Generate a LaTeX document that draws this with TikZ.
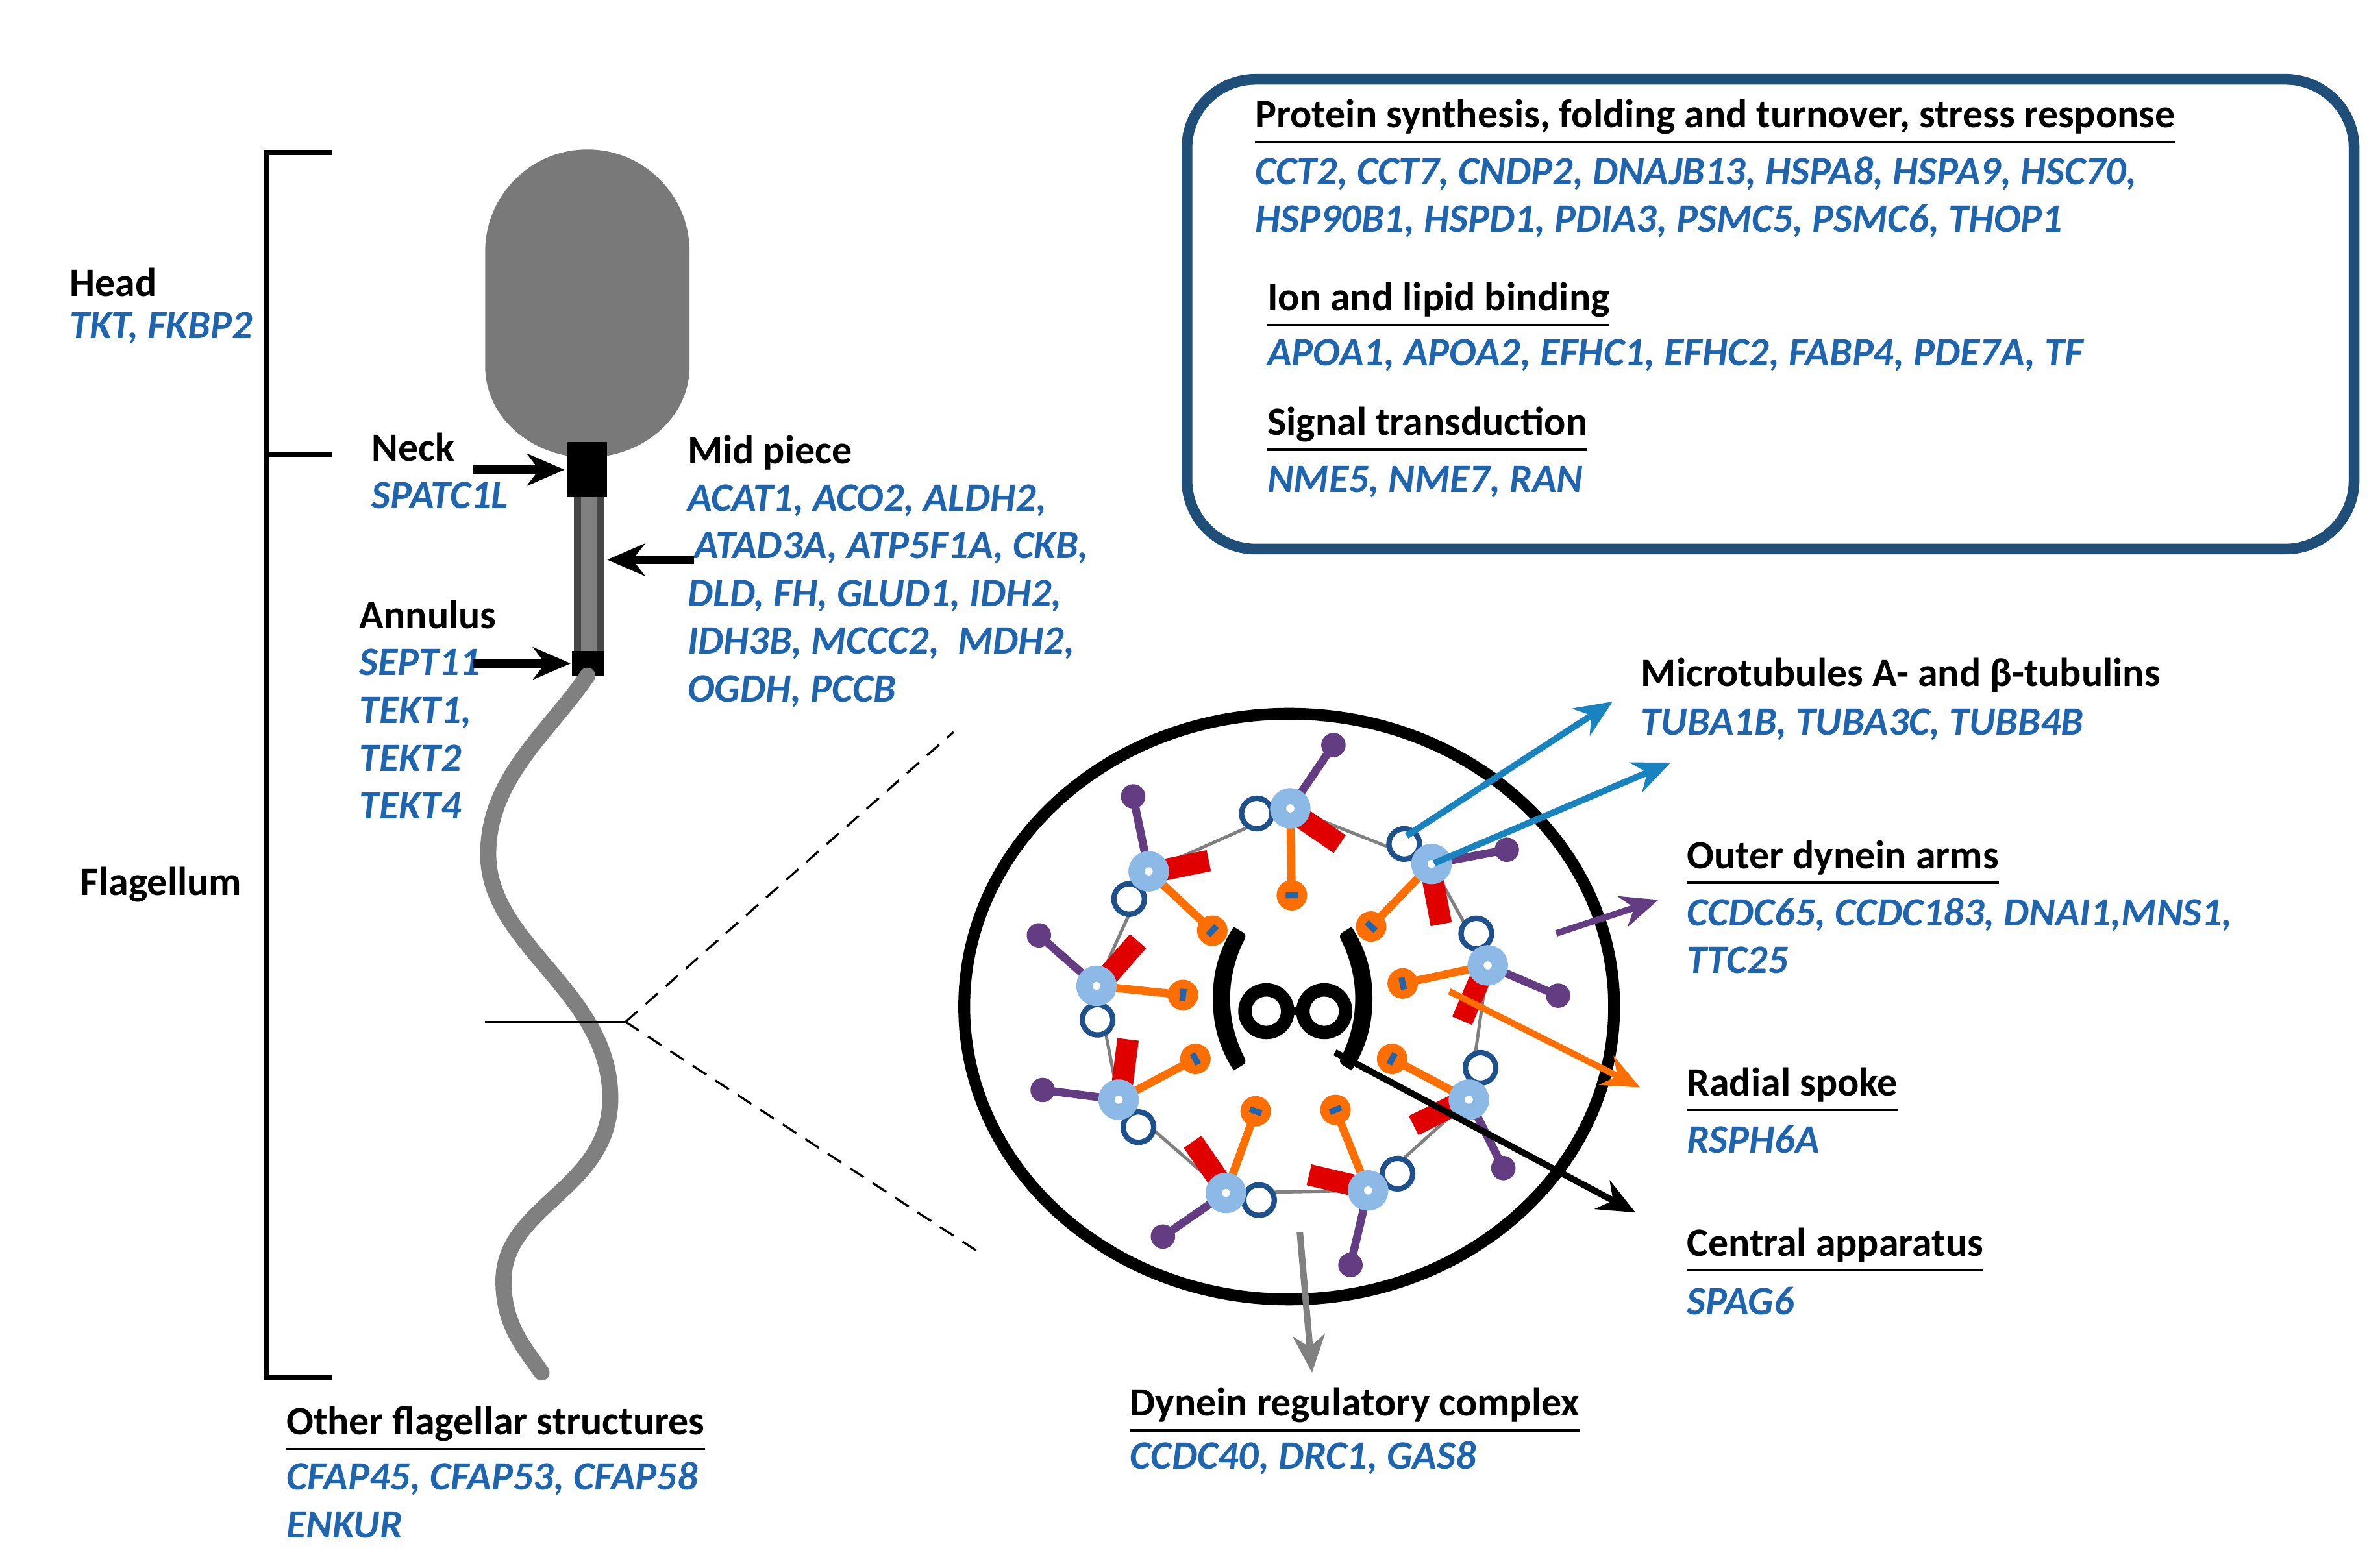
\documentclass[tikz,border=0pt]{standalone}
\usepackage{fontspec}
\setmainfont{Carlito}
\usetikzlibrary{arrows.meta,positioning,calc}
\definecolor{genblue}{RGB}{30,100,175}
\definecolor{boxblue}{RGB}{31,78,121}
\definecolor{lightmt}{RGB}{140,185,230}
\definecolor{darkmt}{RGB}{30,80,140}
\definecolor{armpurple}{RGB}{100,60,130}
\definecolor{spokeorange}{RGB}{255,110,0}
\definecolor{dynred}{RGB}{225,0,0}
\begin{document}
\begin{tikzpicture}[x=0.01cm, y=0.01cm,
  hd/.style={anchor=west, inner sep=0pt, font=\fontsize{7.5}{8.9}\selectfont\bfseries},
  gn/.style={anchor=west, inner sep=0pt, text=genblue, font=\fontsize{7.5}{8.9}\selectfont\bfseries\itshape},
  lbl/.style={-{Stealth[length=7pt,width=6pt]}, line width=1.6pt}]
  \useasboundingbox (0,0) rectangle (1560,-1028);
  % bracket
  \draw[line width=1pt] (218,-100) -- (175,-100) -- (175,-903) -- (218,-903);
  \draw[line width=1pt] (175,-298) -- (218,-298);
  \node[hd] (head) at (45,-185) {Head};
  \node[gn] (headg) at (45,-215) {TKT, FKBP2};
  \node[hd] (flag) at (52,-580) {Flagellum};
  % sperm head
  \fill[gray!95!black] (318,-240) -- (318,-165) arc[start angle=180, end angle=0, radius=67]
    -- (452,-240) .. controls (452,-275) and (420,-300) .. (385,-300)
    .. controls (350,-300) and (318,-275) .. (318,-240) -- cycle;
  % neck, mid piece, annulus
  \fill[black] (372,-290) rectangle (398,-326);
  \fill[gray!55!black] (376,-326) rectangle (396,-428);
  \fill[gray] (381,-326) rectangle (391,-428);
  \fill[black] (375,-427) rectangle (396,-443);
  % tail
  \draw[gray, line width=3pt, line cap=round] (385,-443)
    .. controls (360,-480) and (320,-510) .. (320,-560)
    .. controls (320,-620) and (400,-650) .. (400,-720)
    .. controls (400,-780) and (330,-790) .. (330,-840)
    .. controls (330,-870) and (345,-885) .. (355,-900);
  % cross-section guide
  \coordinate (cut) at (410,-670);
  \draw (318,-670) -- (cut);
  \draw[densely dashed] (cut) -- (625,-480);
  \draw[densely dashed] (cut) -- (640,-820);
  % sperm labels
  \node[hd] (neck) at (243,-293) {Neck};
  \node[gn] (neckg) at (243,-325) {SPATC1L};
  \node[hd] (ann) at (235,-403) {Annulus};
  \node[gn, align=left, anchor=north west] (anng) at (235,-425) {SEPT11\\TEKT1,\\TEKT2\\TEKT4};
  \node[hd] (mid) at (450,-297) {Mid piece};
  \node[gn, align=left, anchor=north west] (midg) at (450,-317) {ACAT1, ACO2, ALDH2,\\\,ATAD3A, ATP5F1A, CKB,\\DLD, FH, GLUD1, IDH2,\\IDH3B, MCCC2,\ \ MDH2,\\OGDH, PCCB};
  \coordinate (neckt) at (370,-308);
  \coordinate (midt) at (398,-367);
  \coordinate (annt) at (374,-435);
  \draw[lbl] (310,-308) -- (neckt);
  \draw[lbl] (455,-367) -- (midt);
  \draw[lbl] (310,-435) -- (annt);
  \node[hd] (other) at (187,-937) {\underline{Other flagellar structures}};
  \node[gn, align=left, anchor=north west] (otherg) at (187,-958) {CFAP45, CFAP53, CFAP58\\ENKUR};
  % function box
  \draw[boxblue, line width=2pt, rounded corners=0.45cm] (778,-52) rectangle (1543,-360);
  \node[hd] (prot) at (822,-80) {\underline{Protein synthesis, folding and turnover, stress response}};
  \node[gn, align=left, anchor=north west] (protg) at (822,-102) {CCT2, CCT7, CNDP2, DNAJB13, HSPA8, HSPA9, HSC70,\\HSP90B1, HSPD1, PDIA3, PSMC5, PSMC6, THOP1};
  \node[hd] (ion) at (830,-200) {\underline{Ion and lipid binding}};
  \node[gn] (iong) at (830,-233) {APOA1, APOA2, EFHC1, EFHC2, FABP4, PDE7A, TF};
  \node[hd] (sig) at (830,-282) {\underline{Signal transduction}};
  \node[gn] (sigg) at (830,-316) {NME5, NME7, RAN};
  % axoneme
  \coordinate (cen) at (848,-660);
  \draw[line width=2.2pt] (cen) ++(-3,0) ellipse[x radius=213, y radius=192];
  \draw[gray, line width=0.6pt, shift={(848,-660)}] (91:130) -- (137:130) -- (174:130) -- (208:130)
    -- (250:130) -- (292:130) -- (332:130) -- (12:130) -- (46:130) -- cycle;
  \foreach \a in {91,137,174,208,250,292,332,12,46} {
    \begin{scope}[shift={(848,-660)}, rotate=\a-90]
      \draw[armpurple, line width=1.5pt] (0,130) -- (29,171);
      \fill[armpurple] (29,171) circle[radius=8];
      \draw[dynred, line width=4pt] (8,123) -- (32,106);
      \draw[spokeorange, line width=1.5pt] (0,130) -- (0,73);
      \fill[spokeorange] (0,73) circle[radius=10];
      \fill[genblue] (-4,71) rectangle (4,75);
      \draw[darkmt, line width=1pt, fill=white] (-22,127) circle[radius=10];
      \draw[lightmt, line width=3pt, fill=white] (0,130) circle[radius=8];
    \end{scope}
  }
  % central apparatus
  \node[font=\fontsize{30}{30}\selectfont\bfseries] (lpar) at (805,-655) {(};
  \node[font=\fontsize{30}{30}\selectfont\bfseries] (rpar) at (890,-655) {)};
  \draw[line width=1.5pt] (830,-663) -- (868,-663);
  \draw[line width=2.5pt, fill=white] (830,-663) circle[radius=14];
  \draw[line width=2.5pt, fill=white] (868,-663) circle[radius=14];
  % structure labels
  \node[hd] (mt) at (1075,-443) {Microtubules A- and β-tubulins};
  \node[gn] (mtg) at (1075,-475) {TUBA1B, TUBA3C, TUBB4B};
  \node[hd] (oda) at (1105,-566) {\underline{Outer dynein arms}};
  \node[gn, align=left, anchor=north west] (odag) at (1105,-588) {CCDC65, CCDC183, DNAI1,MNS1,\\TTC25};
  \node[hd] (rs) at (1105,-715) {\underline{Radial spoke}};
  \node[gn] (rsg) at (1105,-747) {RSPH6A};
  \node[hd] (ca) at (1105,-820) {\underline{Central apparatus}};
  \node[gn] (cag) at (1105,-853) {SPAG6};
  \node[hd] (drc) at (740,-925) {\underline{Dynein regulatory complex}};
  \node[gn] (drcg) at (740,-956) {CCDC40, DRC1, GAS8};
  % pointers
  \coordinate (mtA) at (922,-548);
  \coordinate (mtB) at (940,-566);
  \coordinate (odaS) at (1020,-612);
  \coordinate (rsS) at (950,-650);
  \coordinate (caS) at (875,-690);
  \coordinate (drcS) at (852,-808);
  \draw[lbl, genblue!80!cyan, line width=1.2pt] (mtA) -- (1057,-460);
  \draw[lbl, genblue!80!cyan, line width=1.2pt] (mtB) -- (1095,-500);
  \draw[lbl, armpurple, line width=1.2pt] (odaS) -- (1087,-590);
  \draw[lbl, spokeorange, line width=1.2pt] (rsS) -- (1075,-713);
  \draw[lbl, line width=1.2pt] (caS) -- (1072,-795);
  \draw[lbl, gray, line width=1.2pt] (drcS) -- (860,-900);
\end{tikzpicture}
\end{document}
